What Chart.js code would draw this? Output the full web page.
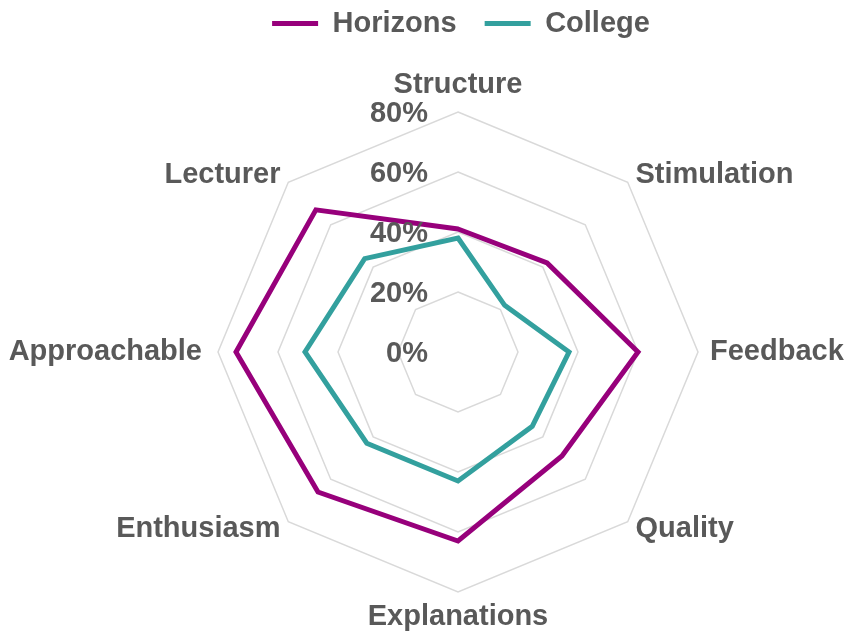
<!DOCTYPE html>
<html>
<head>
<meta charset="utf-8">
<script src="https://cdn.jsdelivr.net/npm/chart.js@4.4.1/dist/chart.umd.min.js"></script>
<style>
  html, body { margin: 0; padding: 0; background: #fff; }
  #wrap { width: 850px; height: 636px; }
</style>
</head>
<body>
<div id="wrap"><canvas id="grafico"></canvas></div>
<script>
// Dados do grafico
var categories = ['Structure', 'Stimulation', 'Feedback', 'Quality', 'Explanations', 'Enthusiasm', 'Approachable', 'Lecturer'];
var horizons = [41, 42, 60, 49, 63, 66, 74, 67];
var college = [38, 22, 37, 35, 43, 43, 51, 44];
var tickValues = [0, 20, 40, 60, 80];

var textColor = '#595959';
var fontFamily = '"Liberation Sans", Arial, sans-serif';
var labelFont = 'bold 29px ' + fontFamily;

// Rotulos dos ticks e das categorias, posicionados pela escala radial
var radarLabels = {
    id: 'radarLabels',
    afterDatasetsDraw: function(chart) {
        var r = chart.scales.r;
        var ctx = chart.ctx;
        var gaps = [27, 11, 12, 11, 25, 11, 16, 11];
        ctx.save();
        ctx.font = labelFont;
        ctx.fillStyle = textColor;
        ctx.textBaseline = 'middle';

        // ticks a esquerda do eixo vertical
        ctx.textAlign = 'right';
        tickValues.forEach(function(v) {
            var d = r.getDistanceFromCenterForValue(v);
            ctx.fillText(v + '%', r.xCenter - 30, r.yCenter - d + 2);
        });

        // categorias em volta do poligono
        categories.forEach(function(label, i) {
            var p = r.getPointPosition(i, r.drawingArea + gaps[i]);
            var s = Math.sin(r.getIndexAngle(i));
            if (s > 0.01) {
                ctx.textAlign = 'left';
            } else if (s < -0.01) {
                ctx.textAlign = 'right';
            } else {
                ctx.textAlign = 'center';
            }
            ctx.fillText(label, p.x, p.y);
        });
        ctx.restore();
    }
};

// Espaco abaixo da legenda
var legendSpace = {
    id: 'legendSpace',
    beforeInit: function(chart) {
        var fit = chart.legend.fit;
        chart.legend.fit = function() {
            fit.bind(chart.legend)();
            this.height = 131;
        };
    },
    afterLayout: function(chart) {
        chart.legend.left += 3;
        chart.legend.right += 3;
    }
};

var context = document.getElementById('grafico').getContext('2d');
var chart = new Chart(context, {
    type: 'radar',
    data: {
        labels: categories,
        datasets: [{
            label: 'Horizons',
            data: horizons,
            borderColor: '#97007B',
            backgroundColor: '#97007B',
            borderWidth: 5,
            borderJoinStyle: 'miter',
            fill: false,
            pointRadius: 0,
            pointHoverRadius: 0
        }, {
            label: 'College',
            data: college,
            borderColor: '#33A09E',
            backgroundColor: '#33A09E',
            borderWidth: 5,
            borderJoinStyle: 'miter',
            fill: false,
            pointRadius: 0,
            pointHoverRadius: 0
        }]
    },
    options: {
        responsive: true,
        maintainAspectRatio: false,
        animation: false,
        layout: {
            padding: { top: -19, bottom: 44, left: 218, right: 152 }
        },
        plugins: {
            legend: {
                position: 'top',
                labels: {
                    color: textColor,
                    font: { family: fontFamily, size: 29, weight: 'bold' },
                    boxWidth: 46,
                    boxHeight: 5,
                    useBorderRadius: true,
                    borderRadius: 2.5,
                    padding: 28,
                    generateLabels: function(chart) {
                        return chart.data.datasets.map(function(ds, i) {
                            return {
                                text: ds.label,
                                fillStyle: ds.borderColor,
                                strokeStyle: ds.borderColor,
                                lineWidth: 0,
                                fontColor: textColor,
                                datasetIndex: i
                            };
                        });
                    }
                }
            },
            tooltip: { enabled: false }
        },
        scales: {
            r: {
                min: 0,
                max: 80,
                ticks: { stepSize: 20, display: false },
                grid: { color: '#D9D9D9', lineWidth: 1.5 },
                angleLines: { display: false },
                pointLabels: { display: false }
            }
        }
    },
    plugins: [radarLabels, legendSpace]
});
</script>
</body>
</html>
